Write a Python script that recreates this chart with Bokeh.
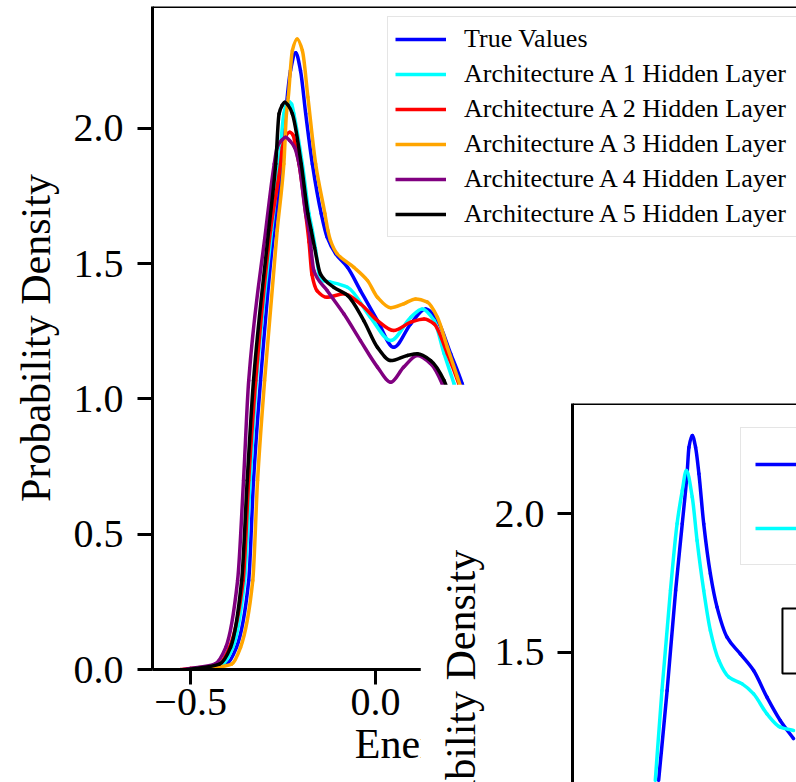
import numpy as np
from bokeh.plotting import figure
from bokeh.models import Legend, LegendItem, Span, BoxAnnotation, FixedTicker, Range1d
from bokeh.layouts import column
from bokeh.embed import file_html
from bokeh.resources import INLINE

FONT = "Liberation Serif"
NBSP = "\u00a0"

# ---------------- data ----------------
true_x = [-0.49, -0.465, -0.403, -0.376, -0.343, -0.330, -0.311, -0.275, -0.252, -0.243,
          -0.230, -0.216, -0.203, -0.189, -0.171, -0.147, -0.131, -0.108, -0.076, -0.041,
          0.005, 0.049, 0.095, 0.135, 0.167, 0.203, 0.234, 0.30, 0.40, 0.50, 0.60]
true_y = [0.0, 0.004, 0.02, 0.082, 0.329, 0.699, 1.068, 1.623, 1.869, 2.055,
          2.214, 2.28, 2.214, 2.055, 1.869, 1.685, 1.598, 1.537, 1.487, 1.401,
          1.290, 1.191, 1.278, 1.333, 1.290, 1.167, 1.056, 0.70, 0.25, 0.05, 0.0]

a1_x = [-0.50, -0.478, -0.414, -0.386, -0.354, -0.339, -0.322, -0.281, -0.261, -0.248,
        -0.241, -0.234, -0.227, -0.221, -0.198, -0.180, -0.171, -0.162, -0.149, -0.122,
        -0.076, -0.014, 0.041, 0.095, 0.126, 0.158, 0.185, 0.212, 0.29, 0.39, 0.49, 0.58]
a1_y = [0.0, 0.004, 0.02, 0.082, 0.329, 0.699, 1.068, 1.623, 1.869, 2.054,
        2.09, 2.10, 2.09, 2.054, 1.869, 1.685, 1.623, 1.55, 1.44, 1.432,
        1.413, 1.302, 1.216, 1.302, 1.333, 1.290, 1.168, 1.056, 0.70, 0.25, 0.05, 0.0]

a2_x = [-0.527, -0.50, -0.424, -0.395, -0.358, -0.343, -0.324, -0.284, -0.257, -0.252,
        -0.242, -0.232, -0.223, -0.216, -0.207, -0.189, -0.180, -0.172, -0.158, -0.131,
        -0.086, -0.041, 0.005, 0.049, 0.095, 0.131, 0.158, 0.194, 0.225, 0.30, 0.40, 0.50, 0.60]
a2_y = [0.0, 0.004, 0.02, 0.082, 0.329, 0.699, 1.068, 1.623, 1.869, 1.93,
        1.975, 1.986, 1.975, 1.93, 1.869, 1.685, 1.58, 1.46, 1.40, 1.376,
        1.389, 1.352, 1.290, 1.253, 1.284, 1.296, 1.278, 1.167, 1.056, 0.72, 0.27, 0.06, 0.0]

a3_x = [-0.47, -0.451, -0.389, -0.365, -0.332, -0.319, -0.300, -0.266, -0.248, -0.241,
        -0.236, -0.225, -0.212, -0.198, -0.183, -0.162, -0.137, -0.129, -0.122, -0.104,
        -0.059, -0.022, 0.005, 0.041, 0.076, 0.108, 0.140, 0.167, 0.194, 0.221,
        0.30, 0.40, 0.50, 0.60]
a3_y = [0.0, 0.004, 0.02, 0.082, 0.329, 0.699, 1.068, 1.623, 1.869, 2.054,
        2.116, 2.288, 2.331, 2.288, 2.116, 1.869, 1.685, 1.623, 1.586, 1.537,
        1.487, 1.438, 1.376, 1.337, 1.352, 1.370, 1.358, 1.302, 1.191, 1.081,
        0.75, 0.28, 0.06, 0.0]

a4_x = [-0.52, -0.50, -0.435, -0.405, -0.373, -0.357, -0.343, -0.297, -0.274, -0.266,
        -0.255, -0.243, -0.232, -0.219, -0.207, -0.189, -0.180, -0.167, -0.131, -0.086,
        -0.041, 0.005, 0.041, 0.076, 0.113, 0.149, 0.180, 0.25, 0.35, 0.45, 0.55]
a4_y = [0.0, 0.004, 0.02, 0.082, 0.329, 0.699, 1.068, 1.623, 1.869, 1.93,
        1.955, 1.968, 1.955, 1.93, 1.869, 1.685, 1.623, 1.475, 1.401, 1.315,
        1.216, 1.118, 1.062, 1.118, 1.161, 1.130, 1.056, 0.70, 0.25, 0.05, 0.0]

a5_x = [-0.51, -0.486, -0.422, -0.392, -0.362, -0.347, -0.330, -0.289, -0.270, -0.261,
        -0.253, -0.246, -0.236, -0.225, -0.201, -0.183, -0.174, -0.165, -0.149, -0.113,
        -0.076, -0.032, 0.005, 0.041, 0.086, 0.113, 0.149, 0.185, 0.25, 0.35, 0.45, 0.55]
a5_y = [0.0, 0.004, 0.02, 0.082, 0.329, 0.699, 1.068, 1.623, 1.869, 2.054,
        2.085, 2.097, 2.085, 2.054, 1.869, 1.685, 1.623, 1.56, 1.462, 1.413,
        1.383, 1.290, 1.191, 1.142, 1.161, 1.167, 1.142, 1.068, 0.72, 0.26, 0.05, 0.0]

series_names = ["True Values", "Architecture A 1 Hidden Layer", "Architecture A 2 Hidden Layer",
                "Architecture A 3 Hidden Layer", "Architecture A 4 Hidden Layer",
                "Architecture A 5 Hidden Layer"]
series_colors = ["#0000ff", "#00ffff", "#ff0000", "#ffa500", "#800080", "#000000"]

# inset panel
inset_true_x = [-0.305, -0.282, -0.259, -0.241, -0.228, -0.223, -0.214, -0.205, -0.196, -0.183,
                -0.165, -0.147, -0.120, -0.084, -0.048, -0.012, 0.024, 0.060]
inset_true_y = [1.04, 1.363, 1.723, 1.964, 2.144, 2.238, 2.281, 2.238, 2.143, 1.963,
                1.783, 1.663, 1.555, 1.495, 1.435, 1.339, 1.255, 1.190]
inset_pred_x = [-0.314, -0.296, -0.273, -0.255, -0.241, -0.230, -0.214, -0.201, -0.183, -0.165,
                -0.142, -0.115, -0.079, -0.048, -0.012, 0.024, 0.060]
inset_pred_y = [1.04, 1.363, 1.723, 1.964, 2.083, 2.155, 2.059, 1.903, 1.723, 1.579,
                1.471, 1.411, 1.387, 1.351, 1.279, 1.231, 1.219]

y_ticks = [0.0, 0.5, 1.0, 1.5, 2.0]
y_tick_labels = ["0.0", "0.5", "1.0", "1.5", "2.0"]
x_ticks = [-0.5, 0.0]
x_tick_labels = ["\u22120.5", "0.0"]


def smooth_segments(xs, ys):
    """Monotone cubic (PCHIP-style) Bezier segments passing through the read points."""
    x = np.asarray(xs, float)
    y = np.asarray(ys, float)
    h = np.diff(x)
    d = np.diff(y) / h
    n = len(x)
    m = np.zeros(n)
    for i in range(1, n - 1):
        if d[i - 1] * d[i] > 0:
            w1 = 2 * h[i] + h[i - 1]
            w2 = h[i] + 2 * h[i - 1]
            m[i] = (w1 + w2) / (w1 / d[i - 1] + w2 / d[i])
    m[0] = d[0]
    m[-1] = d[-1]
    return dict(x0=x[:-1], y0=y[:-1], x1=x[1:], y1=y[1:],
                cx0=x[:-1] + h / 3, cy0=y[:-1] + m[:-1] * h / 3,
                cx1=x[1:] - h / 3, cy1=y[1:] - m[1:] * h / 3)


def draw_curve(p, xs, ys, color, width=3.5):
    seg = smooth_segments(xs, ys)
    p.bezier(line_color=color, line_width=width, line_cap="round", **seg)
    # one-point line renderer (draws nothing itself) that supplies the legend glyph
    return p.line(xs[:1], ys[:1], line_color=color, line_width=width, line_cap="butt")


def style_axis(ax):
    ax.axis_line_width = 3
    ax.axis_line_color = "black"
    ax.major_tick_line_width = 3
    ax.major_tick_line_color = "black"
    ax.major_tick_out = 15
    ax.major_tick_in = 0
    ax.minor_tick_line_color = None
    ax.major_label_text_font = FONT
    ax.major_label_text_font_size = "40px"
    ax.major_label_text_color = "black"
    ax.axis_label_text_font = FONT
    ax.axis_label_text_font_size = "42px"
    ax.axis_label_text_font_style = "normal"
    ax.axis_label_text_color = "black"


# ---------------- main panel ----------------
p1 = figure(width=796, height=782, output_backend="svg", toolbar_location=None,
            x_range=Range1d(-0.603, 1.1375), y_range=Range1d(0, 2.451),
            min_border_left=152, min_border_right=0, min_border_top=6, min_border_bottom=113)
p1.outline_line_color = None
p1.grid.visible = False
p1.background_fill_color = "white"
p1.border_fill_color = "white"

for ax in p1.axis:
    style_axis(ax)
p1.xaxis.ticker = FixedTicker(ticks=x_ticks)
p1.xaxis.major_label_overrides = dict(zip(x_ticks, x_tick_labels))
p1.xaxis.major_label_standoff = 4
p1.xaxis.axis_label = "Energy (eV)" + NBSP * 3
p1.xaxis.axis_label_standoff = 3
p1.yaxis.ticker = FixedTicker(ticks=y_ticks)
p1.yaxis.major_label_overrides = dict(zip(y_ticks, y_tick_labels))
p1.yaxis.major_label_standoff = 14
p1.yaxis.axis_label = "Probability Density"
p1.yaxis.axis_label_standoff = 12

p1.add_layout(Span(location=p1.y_range.end, dimension="width", line_color="black", line_width=3))

all_x = [true_x, a1_x, a2_x, a3_x, a4_x, a5_x]
all_y = [true_y, a1_y, a2_y, a3_y, a4_y, a5_y]
items = []
for xs, ys, name, col in zip(all_x, all_y, series_names, series_colors):
    r = draw_curve(p1, xs, ys, col)
    items.append(LegendItem(label=name, renderers=[r]))

leg1 = Legend(items=items, location=(235, 432), glyph_width=51, glyph_height=30,
              label_height=30, spacing=5, padding=7, label_standoff=18, label_width=420,
              label_text_font=FONT, label_text_font_size="26px", label_text_color="black",
              border_line_color="#cccccc", border_line_width=1.5,
              background_fill_color="white", background_fill_alpha=0.8, margin=0)
p1.add_layout(leg1)

# ---------------- inset panel ----------------
p2 = figure(width=376, height=398, output_backend="svg", toolbar_location=None,
            x_range=Range1d(-0.538, 0.068), y_range=Range1d(1.032, 2.396),
            min_border_left=152, min_border_right=0, min_border_top=19, min_border_bottom=0,
            x_axis_location=None)
p2.outline_line_color = None
p2.grid.visible = False
p2.background_fill_color = "white"
p2.border_fill_color = "white"
for ax in p2.axis:
    style_axis(ax)
p2.yaxis.ticker = FixedTicker(ticks=y_ticks)
p2.yaxis.major_label_overrides = dict(zip(y_ticks, y_tick_labels))
p2.yaxis.major_label_standoff = 13
p2.yaxis.axis_label = "Probability Density" + NBSP * 23
p2.yaxis.axis_label_standoff = 8
p2.add_layout(Span(location=p2.y_range.end, dimension="width", line_color="black", line_width=3))

r_t = draw_curve(p2, inset_true_x, inset_true_y, "#0000ff")
r_p = draw_curve(p2, inset_pred_x, inset_pred_y, "#00ffff")
leg2 = Legend(items=[LegendItem(label=" ", renderers=[r_t]), LegendItem(label=" ", renderers=[r_p])],
              location=(168, 217), glyph_width=60, glyph_height=44, label_height=44,
              spacing=20, padding=14, label_standoff=18, label_width=300,
              label_text_font=FONT, label_text_font_size="40px",
              border_line_color="#cccccc", border_line_width=1.5,
              background_fill_color="white", background_fill_alpha=0.8, margin=0)
p2.add_layout(leg2)

p2.add_layout(BoxAnnotation(left=0.03, right=0.5, bottom=1.424, top=1.658,
                            fill_color="white", fill_alpha=1.0,
                            line_color="black", line_alpha=1.0, line_width=2))

p2.margin = (-398, 0, 0, 420)

layout = column(p1, p2)
open("out.html", "w").write(file_html(layout, INLINE))
